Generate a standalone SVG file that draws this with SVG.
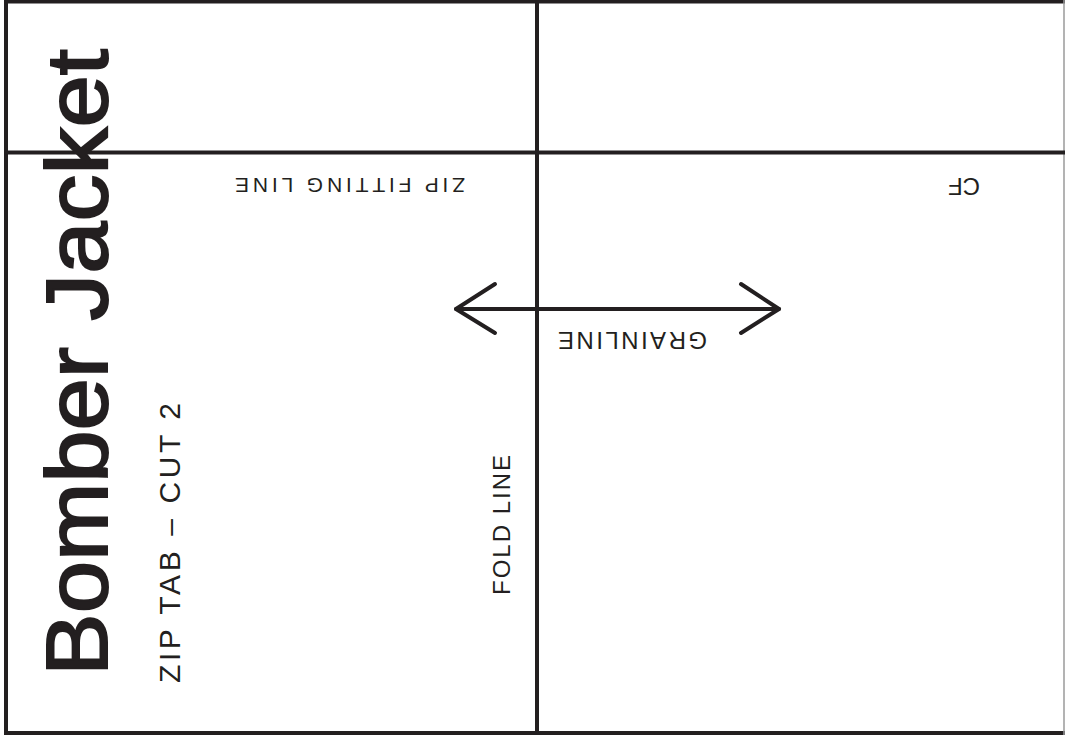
<svg xmlns="http://www.w3.org/2000/svg" width="1065" height="738" viewBox="0 0 1065 738">
<style>
.ln{stroke:#231f20;stroke-width:4;fill:none}
.t{font-family:"Liberation Sans",Arial,sans-serif;fill:#231f20}
.arr{stroke:#231f20;stroke-width:4;fill:none;stroke-linecap:round;stroke-linejoin:round}
</style>
<rect width="1065" height="738" fill="#ffffff"/>
<g id="outline">
<line class="ln" x1="6" y1="1.5" x2="1065" y2="1.5"/>
<line class="ln" x1="6" y1="0" x2="6" y2="735"/>
<line class="ln" x1="4" y1="733" x2="1065" y2="733"/>
<line x1="1064" y1="0" x2="1064" y2="735" stroke="#9a9a9a" stroke-width="1.5"/>
</g>
<g id="connectors">
<line class="ln" x1="6" y1="152.5" x2="1065" y2="152.5"/>
<line class="ln" x1="537" y1="0" x2="537" y2="733"/>
</g>
<g id="grainline">
<line class="arr" x1="456" y1="309" x2="779" y2="309"/>
<polyline class="arr" points="495,284 456,309 495,333"/>
<polyline class="arr" points="741,284 779,309 741,333"/>
<text class="t" font-size="24" transform="translate(707,332) rotate(180)" textLength="149" lengthAdjust="spacing">GRAINLINE</text>
</g>
<g id="title">
<text class="t" font-size="88" stroke="#231f20" stroke-width="2" transform="translate(107,676) rotate(-90)" textLength="627" lengthAdjust="spacingAndGlyphs">Bomber Jacket</text>
</g>
<g id="subtitle">
<text class="t" font-size="30" transform="translate(180,683) rotate(-90)" textLength="280" lengthAdjust="spacing">ZIP TAB – CUT 2</text>
</g>
<g id="foldline">
<text class="t" font-size="24" transform="translate(510,595) rotate(-90)" textLength="140" lengthAdjust="spacing">FOLD LINE</text>
</g>
<g id="zipfitting">
<text class="t" font-size="21" transform="translate(465,178) rotate(180)" textLength="230" lengthAdjust="spacing">ZIP FITTING LINE</text>
</g>
<g id="cf">
<text class="t" font-size="24" transform="translate(980,178) rotate(180)" textLength="32" lengthAdjust="spacing">CF</text>
</g>
</svg>
